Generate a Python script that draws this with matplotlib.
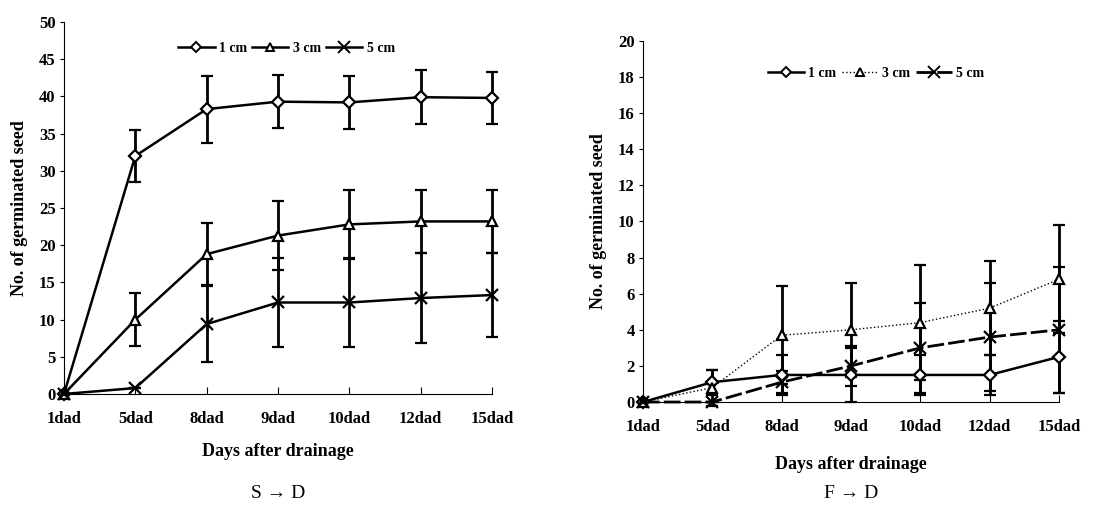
import matplotlib
matplotlib.use("Agg")
import matplotlib.pyplot as plt
from matplotlib.lines import Line2D

plt.rcParams["font.family"] = ["Liberation Serif", "DejaVu Serif"]

DAYS = ["1dad", "5dad", "8dad", "9dad", "10dad", "12dad", "15dad"]
LABELS = ["1 cm", "3 cm", "5 cm"]

# S -> D panel
sd_1cm = [0, 32.0, 38.3, 39.3, 39.2, 39.9, 39.8]
sd_1cm_err = [0, 3.5, 4.5, 3.6, 3.6, 3.6, 3.5]
sd_3cm = [0, 10.0, 18.8, 21.3, 22.8, 23.2, 23.2]
sd_3cm_err = [0, 3.6, 4.2, 4.6, 4.6, 4.2, 4.2]
sd_5cm = [0, 0.8, 9.4, 12.3, 12.3, 12.9, 13.3]
sd_5cm_err = [0, 0, 5.1, 6.0, 6.0, 6.1, 5.6]

# F -> D panel
fd_1cm = [0, 1.1, 1.5, 1.5, 1.5, 1.5, 2.5]
fd_1cm_err = [0, 0.7, 1.1, 1.5, 1.1, 1.1, 2.0]
fd_3cm = [0, 0.8, 3.7, 4.0, 4.4, 5.2, 6.8]
fd_3cm_err = [0, 1.0, 2.7, 2.6, 3.2, 2.6, 3.0]
fd_5cm = [0, 0, 1.1, 2.0, 3.0, 3.6, 4.0]
fd_5cm_err = [0, 0, 0.6, 1.1, 2.5, 3.0, 3.5]

fig = plt.figure(figsize=(11.19, 5.18), dpi=100)
ax1 = fig.add_axes([0.0572, 0.2394, 0.3825, 0.718])
ax2 = fig.add_axes([0.5746, 0.2239, 0.3718, 0.697])

markers = ["D", "^", "x"]
msizes = [6, 7, 9]


def draw_panel(ax, series, errs, styles, lws, ymax, ystep, title, leg_pos, xlabpad):
    x = list(range(len(DAYS)))
    handles = []
    for vals, err, lab, m, ms, ls, lw in zip(series, errs, LABELS, markers, msizes, styles, lws):
        ax.errorbar(x, vals, yerr=err, color="black", linestyle=ls, linewidth=lw,
                    marker=m, markersize=ms, markerfacecolor="white",
                    markeredgecolor="black", markeredgewidth=1.6,
                    ecolor="black", elinewidth=2, capsize=4, capthick=2,
                    clip_on=False, zorder=3)
        handles.append(Line2D([], [], color="black", linestyle=ls, linewidth=lw,
                              marker=m, markersize=ms - 1, markerfacecolor="white",
                              markeredgecolor="black", markeredgewidth=1.4, label=lab))
    ax.set_xlim(0, len(DAYS) - 1)
    ax.set_ylim(0, ymax)
    ax.set_xticks(x)
    ax.set_xticklabels(DAYS)
    ax.set_yticks(range(0, ymax + 1, ystep))
    ax.spines["top"].set_visible(False)
    ax.spines["right"].set_visible(False)
    ax.tick_params(axis="x", direction="in", length=5, pad=12, labelsize=12)
    ax.tick_params(axis="y", direction="out", length=3, pad=3, labelsize=12)
    for t in ax.get_xticklabels() + ax.get_yticklabels():
        t.set_fontweight("bold")
    ax.set_xlabel("Days after drainage", fontsize=13, fontweight="bold", labelpad=xlabpad)
    ax.set_ylabel("No. of germinated seed", fontsize=13, fontweight="bold", labelpad=8)
    bbox = ax.get_position()
    fig.text(bbox.x0 + bbox.width / 2, title[1], title[0], ha="center", va="center",
             fontsize=14, family=["Liberation Serif", "DejaVu Serif"])
    ax.legend(handles=handles, loc="center", bbox_to_anchor=leg_pos, ncol=3, frameon=False,
              handlelength=2.6, handletextpad=0.3, columnspacing=0.4,
              prop={"weight": "bold", "size": 10})


draw_panel(ax1, [sd_1cm, sd_3cm, sd_5cm], [sd_1cm_err, sd_3cm_err, sd_5cm_err],
           ["-", "-", "-"], [1.8, 1.8, 1.8], 50, 5, ("S → D", 1 - 493 / 518),
           (0.52, 0.93), 12)
draw_panel(ax2, [fd_1cm, fd_3cm, fd_5cm], [fd_1cm_err, fd_3cm_err, fd_5cm_err],
           ["-", ":", (0, (6, 1.5))], [1.8, 1.0, 2.0], 20, 2, ("F → D", 1 - 494 / 518),
           (0.56, 0.91), 15)

fig.savefig("out.png", dpi=100)
